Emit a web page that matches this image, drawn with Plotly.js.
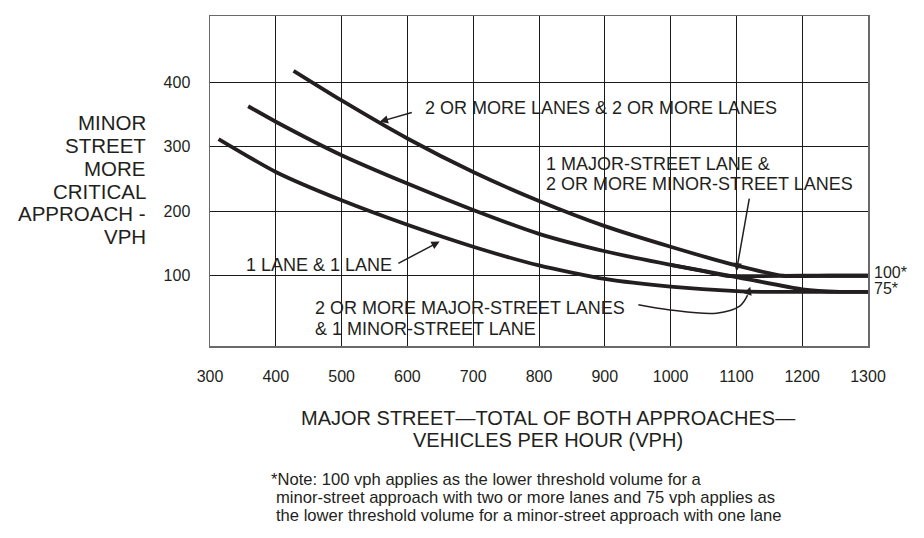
<!DOCTYPE html>
<html>
<head>
<meta charset="utf-8">
<script src="https://cdn.plot.ly/plotly-3.0.1.min.js"></script>
<style>html,body{margin:0;padding:0;background:#fff;}#chart{width:924px;height:538px;}</style>
</head>
<body>
<div id="chart"></div>
<script>
// ---- data ----
const xTicks = [300, 400, 500, 600, 700, 800, 900, 1000, 1100, 1200, 1300];
const yTicks = [100, 200, 300, 400];

// 2 or more lanes & 2 or more lanes
const xTwoTwo = [427, 500, 600, 700, 800, 900, 1000, 1100, 1171, 1240, 1300];
const yTwoTwo = [418, 372, 313, 261, 216, 177, 145, 116, 100, 100, 100];

// middle curve: 2 or more major-street lanes & 1 minor-street lane (ends at 75)
const xMid = [358, 400, 500, 600, 700, 800, 900, 1000, 1100, 1200, 1257, 1300];
const yMid = [363, 339, 287, 243, 202, 165, 138, 117, 98, 79, 75, 75];

// branch of middle curve: 1 major-street lane & 2 or more minor-street lanes (ends at 100)
const xMidBranch = [1000, 1050, 1085, 1200, 1300];
const yMidBranch = [117, 107, 100, 100, 100];

// 1 lane & 1 lane
const xOneOne = [313, 400, 500, 600, 700, 800, 900, 1000, 1100, 1140, 1220, 1300];
const yOneOne = [312, 261, 217, 179, 145, 116, 95, 83, 76, 75, 75, 75];

// curved leader for the "2 OR MORE MAJOR-STREET LANES" label
const xLeader = [951, 999, 1070, 1105, 1117];
const yLeader = [55, 47, 42, 53, 70];

const yTitleLines = ['MINOR', 'STREET', 'MORE', 'CRITICAL', 'APPROACH -', 'VPH'];
const xTitleLines = ['MAJOR STREET\u2014TOTAL OF BOTH APPROACHES\u2014', 'VEHICLES PER HOUR (VPH)'];
const noteLines = [
  '*Note: 100 vph applies as the lower threshold volume for a',
  'minor-street approach with two or more lanes and 75 vph applies as',
  'the lower threshold volume for a minor-street approach with one lane'
];
const thresholdLabels = ['100*', '75*'];
const thresholdValues = [100, 75];

// ---- drawing ----
const ink = '#231f20';
const FONT = 'Arial, "Liberation Sans", Helvetica, sans-serif';
const curveLine = {color: ink, width: 3.8, shape: 'spline', smoothing: 0.6};

const traces = [
  {x: xTwoTwo, y: yTwoTwo, mode: 'lines', line: curveLine, hoverinfo: 'skip'},
  {x: xMid, y: yMid, mode: 'lines', line: curveLine, hoverinfo: 'skip'},
  {x: xMidBranch, y: yMidBranch, mode: 'lines', line: curveLine, hoverinfo: 'skip'},
  {x: xOneOne, y: yOneOne, mode: 'lines', line: curveLine, hoverinfo: 'skip'},
  {x: xLeader, y: yLeader, mode: 'lines', line: {color: ink, width: 1.5, shape: 'spline', smoothing: 1}, hoverinfo: 'skip'}
];

const labelFont = {family: FONT, size: 18, color: ink};
const annotations = [];

function txt(text, x, y, xref, yref, xanchor, font, extra) {
  annotations.push(Object.assign({
    text: text, x: x, y: y, xref: xref, yref: yref,
    xanchor: xanchor, yanchor: 'middle', showarrow: false, font: font
  }, extra || {}));
}
function arrow(xTip, yTip, xTail, yTail) {
  annotations.push({
    text: '', x: xTip, y: yTip, ax: xTail, ay: yTail,
    xref: 'x', yref: 'y', axref: 'x', ayref: 'y',
    showarrow: true, arrowhead: 2, arrowsize: 1.1, arrowwidth: 1.5, arrowcolor: ink
  });
}

// curve labels
txt('2 OR MORE LANES &amp; 2 OR MORE LANES', 624, 360, 'x', 'y', 'left', labelFont);
arrow(558, 339, 609, 354);
txt('1 MAJOR-STREET LANE &amp;', 808, 274, 'x', 'y', 'left', labelFont);
txt('2 OR MORE MINOR-STREET LANES', 808, 242, 'x', 'y', 'left', labelFont);
arrow(1100, 107, 1120, 222);
txt('1 LANE &amp; 1 LANE', 351, 117, 'x', 'y', 'left', labelFont);
arrow(649, 153, 584, 118);
txt('2 OR MORE MAJOR-STREET LANES', 457, 50, 'x', 'y', 'left', labelFont);
txt('&amp; 1 MINOR-STREET LANE', 457, 18, 'x', 'y', 'left', labelFont);
arrow(1121, 83, 1117, 70);

// threshold labels on the right
thresholdLabels.forEach((t, i) => {
  txt(t, 1, thresholdValues[i], 'paper', 'y', 'left', {family: FONT, size: 16, color: ink}, {xshift: 4, yshift: 3});
});

// y-axis title, line by line
yTitleLines.forEach((t, i) => {
  const ypx = 122.7 + i * 22.8;
  txt(t, (148 - 210) / 658, (346 - ypx) / 330, 'paper', 'paper', 'right', {family: FONT, size: 20.5, color: ink});
});

// x-axis title
xTitleLines.forEach((t, i) => {
  const ypx = 418 + i * 22;
  txt(t, (548 - 210) / 658, (346 - ypx) / 330, 'paper', 'paper', 'center', {family: FONT, size: 20, color: ink});
});

// note
noteLines.forEach((t, i) => {
  const ypx = 479 + i * 18.2;
  const xpx = i === 0 ? 268.5 : 273.5;
  txt(t, (xpx - 210) / 658, (346 - ypx) / 330, 'paper', 'paper', 'left', {family: FONT, size: 16.6, color: ink});
});

const layout = {
  width: 924, height: 538,
  margin: {l: 210, r: 56, t: 16, b: 192},
  paper_bgcolor: '#fff', plot_bgcolor: '#fff',
  showlegend: false,
  font: {family: FONT, color: ink},
  xaxis: {
    range: [300, 1300], tickvals: xTicks, ticktext: xTicks.map(String),
    showgrid: true, gridcolor: '#1a1a1a', gridwidth: 1,
    zeroline: false, showline: true, mirror: true, linecolor: '#6a6a6a', linewidth: 1.5,
    ticks: 'outside', ticklen: 15, tickcolor: 'rgba(0,0,0,0)',
    tickfont: {family: FONT, size: 16, color: ink}, fixedrange: true
  },
  yaxis: {
    range: [-9, 503], tickvals: yTicks, ticktext: yTicks.map(String),
    showgrid: true, gridcolor: '#1a1a1a', gridwidth: 1,
    zeroline: false, showline: true, mirror: true, linecolor: '#6a6a6a', linewidth: 1.5,
    ticks: 'outside', ticklen: 15, tickcolor: 'rgba(0,0,0,0)',
    tickfont: {family: FONT, size: 16, color: ink}, fixedrange: true
  },
  annotations: annotations
};

Plotly.newPlot('chart', traces, layout, {displayModeBar: false, staticPlot: true});
</script>
</body>
</html>
